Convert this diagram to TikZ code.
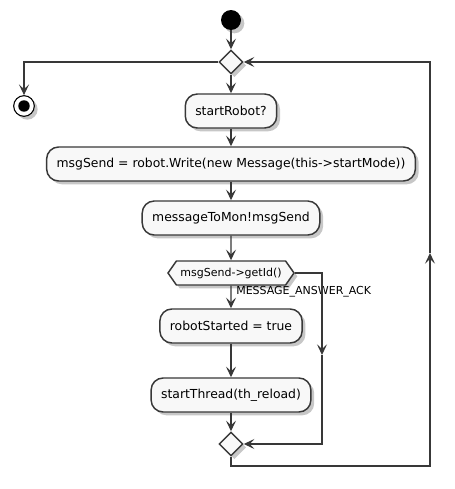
\documentclass[tikz,border=0pt]{standalone}
\usepackage{fontspec}
\setmainfont{DejaVu Sans}
\usetikzlibrary{arrows.meta,shapes.geometric,shapes.symbols,shadows}
\definecolor{linea}{HTML}{383838}
\definecolor{caja}{HTML}{F8F8F8}

\begin{document}
\begin{tikzpicture}[
    x=0.75pt, y=-0.75pt,
    % --- SOMBRA comun ---
    sombra/.style={drop shadow={shadow xshift=2.5pt, shadow yshift=-2.5pt, fill=black, opacity=0.22}},
    % --- ACCIONES: cajas redondeadas ---
    accion/.style={rectangle, rounded corners=9pt, draw=linea, fill=caja, line width=1.1pt,
        minimum height=25.5pt, inner xsep=7.5pt, font=\fontsize{9.3}{11}\selectfont, sombra},
    % --- DECISIONES ---
    rombo/.style={diamond, aspect=1, draw=linea, fill=caja, line width=1.1pt, minimum size=18pt, inner sep=0pt, sombra},
    hexagono/.style={signal, signal to=west and east, signal pointer angle=110, draw=linea, fill=caja,
        line width=1.1pt, minimum height=18pt, inner xsep=3pt, font=\fontsize{8.25}{10}\selectfont, sombra},
    % --- INICIO Y FIN ---
    inicio/.style={circle, fill=black, minimum size=15pt, inner sep=0pt, sombra},
    fin/.style={circle, draw=black, fill=white, line width=0.8pt, minimum size=15.5pt, inner sep=0pt, sombra},
    % --- FLECHAS ---
    flecha/.style={-{Stealth[length=8pt, width=7.5pt, inset=3.5pt]}, draw=linea, line width=1.1pt},
    etiqueta/.style={font=\fontsize{8.25}{10}\selectfont, anchor=west, inner sep=0pt}
]
    \useasboundingbox (0,0) rectangle (454,489);

    % --- NODOS ---
    \node[inicio]   (ini)       at (231,20)  {};
    \node[rombo]    (bucle)     at (231,62)  {};
    \node[fin]      (final)     at (24,106)  {};
    \fill (final.center) circle (4.3pt);
    \node[accion]   (arranque)  at (231,111) {startRobot?};
    \node[accion]   (envio)     at (231,164) {msgSend = robot.Write(new Message(this->startMode))};
    \node[accion]   (mensaje)   at (231,218) {messageToMon!msgSend};
    \node[hexagono] (opcion)    at (231,273) {msgSend->getId()};
    \node[accion]   (arrancado) at (231,326) {robotStarted = true};
    \node[accion]   (hilo)      at (231,395) {startThread(th\_reload)};
    \node[rombo]    (union)     at (231,444) {};

    % --- PUNTOS DE LAS RAMAS ---
    \coordinate (ramaA) at (322,273);
    \coordinate (ramaM) at (322,355);
    \coordinate (ramaB) at (322,444);
    \coordinate (abajo) at (231,466);
    \coordinate (esqB)  at (430,466);
    \coordinate (esqM)  at (430,253);
    \coordinate (esqA)  at (430,62);

    % --- FLUJO PRINCIPAL ---
    \draw[flecha] (ini) -- (bucle);
    \draw[flecha] (bucle) -- (arranque);
    \draw[flecha] (bucle.west) -| (final);
    \draw[flecha] (arranque) -- (envio);
    \draw[flecha] (envio) -- (mensaje);
    \draw[flecha] (mensaje) -- (opcion);
    \draw[flecha] (opcion) -- (arrancado);
    \node[etiqueta] at (236,292) {MESSAGE\_ANSWER\_ACK};
    \draw[flecha] (arrancado) -- (hilo);
    \draw[flecha] (hilo) -- (union);

    % --- RAMA ALTERNATIVA ---
    \draw[flecha] (opcion.east) -- (ramaA) -- (ramaM);
    \draw[flecha] (ramaM) -- (ramaB) -- (union.east);

    % --- VUELTA DEL BUCLE ---
    \draw[flecha] (union.south) -- (abajo) -- (esqB) -- (esqM);
    \draw[flecha] (esqM) -- (esqA) -- (bucle.east);

\end{tikzpicture}
\end{document}
